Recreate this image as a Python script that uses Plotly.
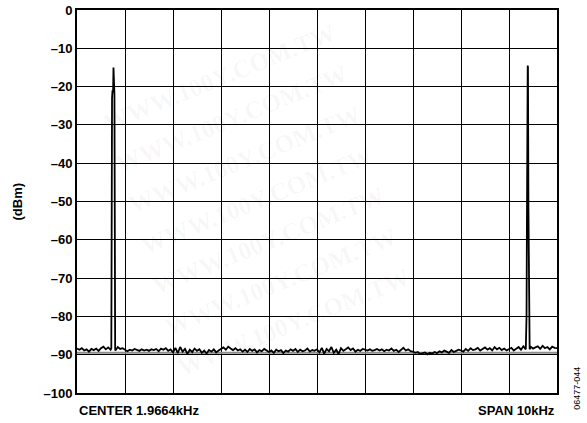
import plotly.graph_objects as go

# Frequency axis (kHz): centre 1.9664 kHz, span 10 kHz
center_khz = 1.9664
span_khz = 10.0
f_start = center_khz - span_khz / 2

# Noise-floor trace, one reading every 0.05 kHz across the span (dBm)
noise_dbm = [
    -88.4, -88.7, -88.3, -88.9, -88.6, -89.2, -88.5, -88.8, -88.4, -89.0,
    -88.3, -87.9, -88.6, -88.1, -88.7, -88.2, -88.9, -88.0, -88.5, -88.3,
    -88.6, -89.1, -88.7, -88.9, -88.5, -88.8, -89.0, -88.6, -88.9, -88.7,
    -89.0, -88.6, -88.8, -88.5, -89.1, -88.4, -88.7, -88.3, -89.0, -88.6,
    -89.4, -88.2, -89.6, -88.0, -89.2, -88.5, -89.8, -88.7, -89.3, -88.4,
    -89.0, -88.6, -89.5, -88.9, -89.7, -88.8, -89.2, -88.6, -89.4, -88.9,
    -88.5, -88.1, -88.7, -87.9, -88.4, -88.8, -88.3, -88.9, -88.6, -89.2,
    -88.7, -89.3, -88.5, -89.0, -88.6, -89.4, -88.8, -89.1, -88.5, -89.0,
    -89.3, -88.9, -89.5, -88.7, -89.1, -88.8, -89.6, -88.9, -89.2, -88.6,
    -89.0, -88.5, -89.3, -88.7, -89.1, -88.9, -88.4, -89.2, -88.8, -89.0,
    -88.6, -89.4, -88.2, -89.7, -88.5, -89.1, -88.0, -89.5, -88.7, -89.8,
    -88.3, -89.0, -88.6, -88.1, -88.8, -88.4, -89.2, -88.7, -89.0, -88.5,
    -88.7, -88.9, -88.6, -89.0, -88.8, -88.5, -88.9, -88.6, -89.1, -88.7,
    -88.9, -88.4, -89.0, -88.7, -89.3, -88.8, -88.2, -88.9, -88.6, -89.1,
    -89.2, -89.5, -89.3, -89.8, -89.6, -89.4, -89.9, -89.5, -89.7, -89.3,
    -89.6, -89.1, -89.4, -88.9, -89.2, -89.5, -88.8, -89.3, -89.0, -88.7,
    -88.9, -89.2, -88.5, -89.0, -88.3, -88.8, -88.6, -88.2, -88.9, -88.4,
    -88.1, -88.7, -88.3, -88.9, -88.0, -88.6, -88.2, -88.8, -88.4, -88.9,
    -88.6, -88.2, -88.9, -88.4, -88.0, -88.7, -87.8, -88.5, -88.3, -87.9,
    -88.4, -88.1, -87.8, -88.5, -87.7, -88.3, -88.0, -88.6, -87.9, -88.2,
    -88.3,
]
noise_step_khz = 0.05
noise_khz = [f_start + i * noise_step_khz for i in range(len(noise_dbm))]

# Tone peaks (offset from span start in kHz, level in dBm)
spike1_khz = [0.715, 0.730, 0.740, 0.752, 0.760, 0.768, 0.780, 0.795]
spike1_dbm = [-88.3, -23.0, -21.0, -21.5, -15.0, -21.0, -22.0, -88.5]
spike2_khz = [9.350, 9.365, 9.375, 9.385, 9.390, 9.395, 9.405, 9.415, 9.430]
spike2_dbm = [-88.6, -80.0, -52.0, -15.0, -14.5, -15.0, -52.0, -80.0, -88.6]

# Reference (average) level shown in grey
ref_level_dbm = -89.5

# merge spikes into trace (drop noise samples lying inside a spike)
spikes = list(zip(spike1_khz, spike1_dbm)) + list(zip(spike2_khz, spike2_dbm))
windows = [(min(spike1_khz), max(spike1_khz)), (min(spike2_khz), max(spike2_khz))]
pts = []
for x, y in zip(noise_khz, noise_dbm):
    off = x - f_start
    if any(lo - 1e-9 <= off <= hi + 1e-9 for lo, hi in windows):
        continue
    pts.append((x, y))
for sx, sy in spikes:
    pts.append((f_start + sx, sy))
pts.sort(key=lambda p: p[0])
trace_x = [p[0] for p in pts]
trace_y = [p[1] for p in pts]

y_ticks = [0, -10, -20, -30, -40, -50, -60, -70, -80, -90, -100]
y_ticktext = ["0" if v == 0 else "\u2013" + str(-v) for v in y_ticks]

watermark = "WWW.100Y.COM.TW"
wm_x = [175, 190, 205, 220, 235, 250, 265]
wm_y = [75, 120, 165, 210, 255, 300, 345]

fig = go.Figure()
fig.add_trace(go.Scatter(
    x=[f_start, f_start + span_khz], y=[ref_level_dbm, ref_level_dbm],
    mode="lines", line=dict(color="#8c8c8c", width=2), hoverinfo="skip",
))
fig.add_trace(go.Scatter(
    x=trace_x, y=trace_y, mode="lines",
    line=dict(color="black", width=1.8),
))

font_family = "Liberation Sans, Arial, sans-serif"

annotations = []
for wx, wy in zip(wm_x, wm_y):
    annotations.append(dict(
        text="<b>" + watermark + "</b>", xref="paper", yref="paper",
        x=wx / 587, y=1 - wy / 423, xanchor="center", yanchor="middle",
        textangle=-22, showarrow=False,
        font=dict(family="Liberation Serif, serif", size=25, color="rgba(0,0,0,0.04)"),
    ))
annotations += [
    dict(text="<b>CENTER 1.9664kHz</b>", xref="paper", yref="paper",
         x=0, y=-0.022, xanchor="left", yanchor="top", showarrow=False,
         font=dict(size=13, family=font_family)),
    dict(text="<b>SPAN 10kHz</b>", xref="paper", yref="paper",
         x=1, y=-0.022, xanchor="right", yanchor="top", showarrow=False,
         font=dict(size=13, family=font_family)),
    dict(text="<b>(dBm)</b>", xref="paper", yref="paper",
         x=-0.125, y=0.5, textangle=-90, xanchor="center", yanchor="middle",
         showarrow=False, font=dict(size=13, family=font_family)),
    dict(text="06477-044", xref="paper", yref="paper",
         x=1.04, y=-0.05, textangle=-90, xanchor="center", yanchor="bottom",
         showarrow=False, font=dict(size=9, family=font_family)),
]

fig.update_layout(
    width=587, height=423,
    margin=dict(l=77, r=30, t=10, b=30, autoexpand=False),
    paper_bgcolor="white", plot_bgcolor="white",
    showlegend=False,
    font=dict(family=font_family, color="black", size=13),
    xaxis=dict(
        range=[f_start, f_start + span_khz],
        dtick=1, tick0=f_start,
        showgrid=True, gridcolor="black", gridwidth=1,
        showticklabels=False, ticks="",
        showline=True, linecolor="black", linewidth=2, mirror=True,
        zeroline=False, automargin=False,
    ),
    yaxis=dict(
        range=[-100, 0],
        tickvals=y_ticks, ticktext=y_ticktext,
        showgrid=True, gridcolor="black", gridwidth=1,
        showline=True, linecolor="black", linewidth=2, mirror=True,
        zeroline=False, ticks="", ticklen=0, automargin=False,
        tickfont=dict(family=font_family, size=13, color="black", weight="bold"),
    ),
    annotations=annotations,
)

fig.write_html("out.html", config={"displayModeBar": False},
               post_script="document.body.style.margin='0';")
